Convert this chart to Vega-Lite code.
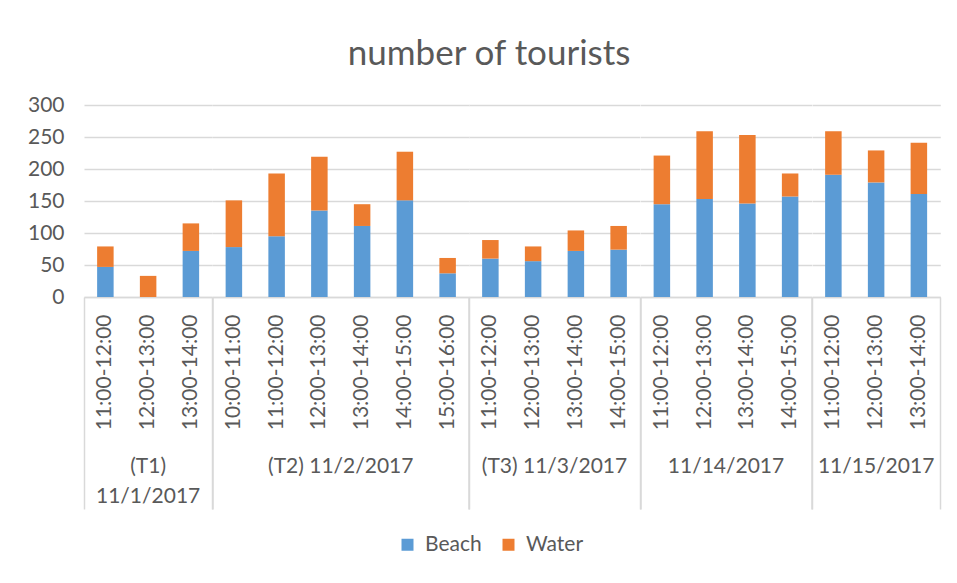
{
  "$schema": "https://vega.github.io/schema/vega-lite/v6.json",
  "padding": {"left": 27, "top": 37, "right": 15, "bottom": 5},
  "background": "white",
  "title": {"text": "number of tourists", "font": "Lato", "fontSize": 35, "fontWeight": "normal", "color": "#595959", "anchor": "middle", "offset": 22, "dx": 5},
  "data": {"values": [
    {"day": "(T1) 11/1/2017", "time": "11:00-12:00", "kind": "Beach", "count": 47},
    {"day": "(T1) 11/1/2017", "time": "11:00-12:00", "kind": "Water", "count": 32},
    {"day": "(T1) 11/1/2017", "time": "12:00-13:00", "kind": "Beach", "count": 0},
    {"day": "(T1) 11/1/2017", "time": "12:00-13:00", "kind": "Water", "count": 33},
    {"day": "(T1) 11/1/2017", "time": "13:00-14:00", "kind": "Beach", "count": 72},
    {"day": "(T1) 11/1/2017", "time": "13:00-14:00", "kind": "Water", "count": 43},
    {"day": "(T2) 11/2/2017", "time": "10:00-11:00", "kind": "Beach", "count": 78},
    {"day": "(T2) 11/2/2017", "time": "10:00-11:00", "kind": "Water", "count": 73},
    {"day": "(T2) 11/2/2017", "time": "11:00-12:00", "kind": "Beach", "count": 95},
    {"day": "(T2) 11/2/2017", "time": "11:00-12:00", "kind": "Water", "count": 98},
    {"day": "(T2) 11/2/2017", "time": "12:00-13:00", "kind": "Beach", "count": 135},
    {"day": "(T2) 11/2/2017", "time": "12:00-13:00", "kind": "Water", "count": 84},
    {"day": "(T2) 11/2/2017", "time": "13:00-14:00", "kind": "Beach", "count": 111},
    {"day": "(T2) 11/2/2017", "time": "13:00-14:00", "kind": "Water", "count": 34},
    {"day": "(T2) 11/2/2017", "time": "14:00-15:00", "kind": "Beach", "count": 151},
    {"day": "(T2) 11/2/2017", "time": "14:00-15:00", "kind": "Water", "count": 76},
    {"day": "(T2) 11/2/2017", "time": "15:00-16:00", "kind": "Beach", "count": 37},
    {"day": "(T2) 11/2/2017", "time": "15:00-16:00", "kind": "Water", "count": 24},
    {"day": "(T3) 11/3/2017", "time": "11:00-12:00", "kind": "Beach", "count": 60},
    {"day": "(T3) 11/3/2017", "time": "11:00-12:00", "kind": "Water", "count": 29},
    {"day": "(T3) 11/3/2017", "time": "12:00-13:00", "kind": "Beach", "count": 56},
    {"day": "(T3) 11/3/2017", "time": "12:00-13:00", "kind": "Water", "count": 23},
    {"day": "(T3) 11/3/2017", "time": "13:00-14:00", "kind": "Beach", "count": 72},
    {"day": "(T3) 11/3/2017", "time": "13:00-14:00", "kind": "Water", "count": 32},
    {"day": "(T3) 11/3/2017", "time": "14:00-15:00", "kind": "Beach", "count": 74},
    {"day": "(T3) 11/3/2017", "time": "14:00-15:00", "kind": "Water", "count": 37},
    {"day": "11/14/2017", "time": "11:00-12:00", "kind": "Beach", "count": 145},
    {"day": "11/14/2017", "time": "11:00-12:00", "kind": "Water", "count": 76},
    {"day": "11/14/2017", "time": "12:00-13:00", "kind": "Beach", "count": 153},
    {"day": "11/14/2017", "time": "12:00-13:00", "kind": "Water", "count": 106},
    {"day": "11/14/2017", "time": "13:00-14:00", "kind": "Beach", "count": 146},
    {"day": "11/14/2017", "time": "13:00-14:00", "kind": "Water", "count": 107},
    {"day": "11/14/2017", "time": "14:00-15:00", "kind": "Beach", "count": 157},
    {"day": "11/14/2017", "time": "14:00-15:00", "kind": "Water", "count": 36},
    {"day": "11/15/2017", "time": "11:00-12:00", "kind": "Beach", "count": 191},
    {"day": "11/15/2017", "time": "11:00-12:00", "kind": "Water", "count": 68},
    {"day": "11/15/2017", "time": "12:00-13:00", "kind": "Beach", "count": 179},
    {"day": "11/15/2017", "time": "12:00-13:00", "kind": "Water", "count": 50},
    {"day": "11/15/2017", "time": "13:00-14:00", "kind": "Beach", "count": 161},
    {"day": "11/15/2017", "time": "13:00-14:00", "kind": "Water", "count": 80}
  ]},
  "facet": {
    "column": {
      "field": "day",
      "type": "nominal",
      "sort": ["(T1) 11/1/2017", "(T2) 11/2/2017", "(T3) 11/3/2017", "11/14/2017", "11/15/2017"],
      "title": null,
      "header": {
        "labelOrient": "bottom",
        "labelFont": "Lato",
        "labelFontSize": 21,
        "labelColor": "#595959",
        "labelPadding": -54,
        "labelLineHeight": 30,
        "labelExpr": "datum.value == '(T1) 11/1/2017' ? ['(T1)', '11/1/2017'] : datum.value"
      }
    }
  },
  "spacing": -11.5,
  "resolve": {"scale": {"x": "independent"}},
  "spec": {
    "width": {"step": 42.75},
    "height": 192,
    "mark": {"type": "bar", "width": {"band": 0.386}},
    "encoding": {
      "x": {
        "field": "time",
        "type": "ordinal",
        "scale": {"paddingInner": 0, "paddingOuter": 0},
        "axis": {
          "title": null,
          "labelAngle": -90,
          "labelFont": "Lato",
          "labelFontSize": 21,
          "labelColor": "#595959",
          "labelOverlap": false,
          "domainColor": "#d9d9d9",
          "domainWidth": 1.5,
          "bandPosition": 1,
          "tickExtra": true,
          "tickSize": 212,
          "tickWidth": 1.5,
          "tickColor": {"condition": {"test": "datum.index == 1 || datum.index < 0", "value": "#d9d9d9"}, "value": "transparent"},
          "labelPadding": -195,
          "grid": false
        }
      },
      "y": {
        "field": "count",
        "type": "quantitative",
        "stack": "zero",
        "scale": {"domain": [0, 300]},
        "axis": {
          "title": null,
          "values": [0, 50, 100, 150, 200, 250, 300],
          "domain": false,
          "ticks": false,
          "labelPadding": 9,
          "labelFont": "Lato",
          "labelFontSize": 21,
          "labelColor": "#595959",
          "gridColor": "#d9d9d9",
          "gridWidth": 1.5
        }
      },
      "color": {
        "field": "kind",
        "type": "nominal",
        "scale": {"domain": ["Beach", "Water"], "range": ["#5B9BD5", "#ED7D31"]},
        "legend": {
          "orient": "none",
          "legendX": 313,
          "legendY": 429,
          "direction": "horizontal",
          "title": null,
          "symbolType": "square",
          "symbolSize": 144,
          "symbolStrokeWidth": 0,
          "labelFont": "Lato",
          "labelFontSize": 21,
          "labelColor": "#595959",
          "labelOffset": 7,
          "columnPadding": 16
        }
      },
      "order": {"field": "kind", "sort": "ascending"}
    }
  },
  "config": {"view": {"stroke": null}, "font": "Lato"}
}
